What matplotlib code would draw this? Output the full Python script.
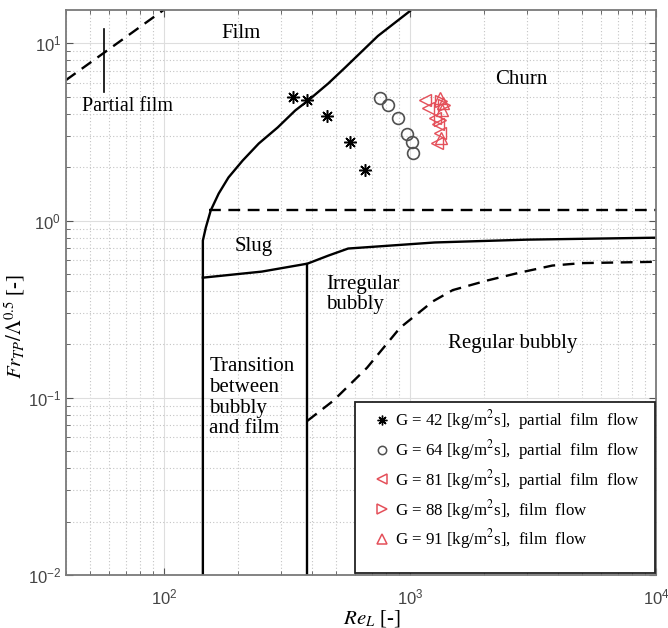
import numpy as np
import matplotlib
matplotlib.use("Agg")
import matplotlib.pyplot as plt
from matplotlib.lines import Line2D
from matplotlib.patches import Rectangle

plt.rcParams['mathtext.fontset'] = 'stix'

# boundaries of the flow-pattern map (Re_L, Fr_TP/Lambda^0.5)
partial_x = [40, 110]
partial_y = [6.2, 17.0]
partial_tick_x = [57, 57]
partial_tick_y = [5.3, 12.0]

film_x = [144, 144, 144, 148, 155, 167, 183, 209, 243, 290, 342, 386, 466, 546, 741, 1000]
film_y = [0.01, 0.62, 0.771, 0.912, 1.14, 1.42, 1.75, 2.18, 2.72, 3.35, 4.18, 4.76, 5.94,
          7.31, 11.0, 15.2]

churn_x = [152, 10000]
churn_y = [1.15, 1.15]

slug_x = [144, 250, 383, 466, 561, 1263, 3000, 10000]
slug_y = [0.476, 0.515, 0.571, 0.634, 0.695, 0.752, 0.78, 0.80]

irr_x = [383, 383]
irr_y = [0.01, 0.571]

reg_x = [383, 488, 669, 911, 1240, 1493, 2050, 2790, 3790, 5000, 10000]
reg_y = [0.0741, 0.0962, 0.1476, 0.248, 0.35, 0.405, 0.458, 0.508, 0.557, 0.575, 0.585]

# measured points
g42_x = [336, 383, 461, 571, 658]
g42_y = [4.95, 4.76, 3.87, 2.76, 1.92]
g64_x = [757, 815, 894, 972, 1019, 1028]
g64_y = [4.89, 4.46, 3.77, 3.06, 2.79, 2.39]
g81_x = [1151, 1183, 1263, 1297, 1321, 1286]
g81_y = [4.76, 4.30, 3.77, 3.49, 3.10, 2.72]
g88_x = [1333, 1374, 1321]
g88_y = [4.70, 4.47, 3.67]
g91_x = [1321, 1361, 1348, 1333]
g91_y = [4.89, 4.58, 4.18, 2.94]

legend_labels = [
    'G = 42 [kg/m$^2$s],  partial  film  flow',
    'G = 64 [kg/m$^2$s],  partial  film  flow',
    'G = 81 [kg/m$^2$s],  partial  film  flow',
    'G = 88 [kg/m$^2$s],  film  flow',
    'G = 91 [kg/m$^2$s],  film  flow',
]

serif = 'Liberation Serif'
red = '#e4505a'
star = (8, 2, 0)

fig = plt.figure(figsize=(6.68, 6.28), dpi=100)
ax = fig.add_axes([0.0988, 0.0844, 0.8832, 0.8996])
ax.set_xscale('log')
ax.set_yscale('log')
ax.set_xlim(40, 10000)
ax.set_ylim(0.01, 15.4)

ax.grid(True, which='major', color='#dedede', lw=0.8, ls='-')
ax.grid(True, which='minor', color='#c4c4c4', lw=0.8, ls=(0, (1, 2)))
ax.set_axisbelow(True)

lw = 1.7
dash = (0, (5, 3.2))
ax.plot(partial_x, partial_y, color='k', lw=lw, ls=dash)
ax.plot(partial_tick_x, partial_tick_y, color='k', lw=1.2)
ax.plot(film_x, film_y, color='k', lw=lw)
ax.plot(churn_x, churn_y, color='k', lw=lw, ls=dash)
ax.plot(slug_x, slug_y, color='k', lw=lw)
ax.plot(irr_x, irr_y, color='k', lw=lw)
ax.plot(reg_x, reg_y, color='k', lw=lw, ls=dash)

ax.plot(g42_x, g42_y, ls='none', marker=star, ms=9, mec='k', mew=1.1)
ax.plot(g64_x, g64_y, ls='none', marker='o', ms=8.5, mfc='none', mec='#505050', mew=1.2)
ax.plot(g81_x, g81_y, ls='none', marker='<', ms=9, mfc='none', mec=red, mew=1.0)
ax.plot(g88_x, g88_y, ls='none', marker='>', ms=9, mfc='none', mec=red, mew=1.0)
ax.plot(g91_x, g91_y, ls='none', marker='^', ms=9, mfc='none', mec=red, mew=1.0)

fs = 15
ax.text(205, 11.4, 'Film', family=serif, fontsize=fs, ha='center', va='center')
ax.text(71, 4.4, 'Partial film', family=serif, fontsize=14.5, ha='center', va='center')
ax.text(2840, 6.27, 'Churn', family=serif, fontsize=fs, ha='center', va='center')
ax.text(231, 0.713, 'Slug', family=serif, fontsize=fs, ha='center', va='center')
ax.text(455, 0.383, 'Irregular\nbubbly', family=serif, fontsize=fs, ha='left', va='center',
        linespacing=1.12)
ax.text(153, 0.1, 'Transition\nbetween\nbubbly\nand film', family=serif, fontsize=fs,
        ha='left', va='center', linespacing=1.12)
ax.text(2612, 0.202, 'Regular bubbly', family=serif, fontsize=fs, ha='center', va='center')

# legend box
ax.add_patch(Rectangle((0.49, 0.003), 0.508, 0.303, transform=ax.transAxes,
                       facecolor='white', edgecolor='#222222', lw=1.3, zorder=4))
handles = [
    Line2D([], [], ls='none', marker=star, ms=7, mec='k', mew=1.0),
    Line2D([], [], ls='none', marker='o', ms=6, mfc='none', mec='#505050', mew=1.1),
    Line2D([], [], ls='none', marker='<', ms=7, mfc='none', mec=red, mew=1.1),
    Line2D([], [], ls='none', marker='>', ms=7, mfc='none', mec=red, mew=1.1),
    Line2D([], [], ls='none', marker='^', ms=7, mfc='none', mec=red, mew=1.1),
]
leg = ax.legend(handles, legend_labels, loc='upper left', bbox_to_anchor=(0.495, 0.322),
                frameon=False, prop={'family': serif, 'size': 12.2},
                handlelength=1.0, handletextpad=0.3, labelspacing=0.34)
leg.set_zorder(5)

for s in ax.spines.values():
    s.set_color('#7a7a7a')
    s.set_linewidth(1.3)
ax.tick_params(which='both', direction='in', top=True, right=True, color='#555555',
               labelcolor='#444444', labelsize=12, labelfontfamily='Liberation Sans')
ax.tick_params(which='major', length=5)
ax.tick_params(which='minor', length=3)
ax.tick_params(axis='x', which='major', pad=9)

ax.set_xlabel(r'$Re_L$ [-]', family=serif, fontsize=15)
ax.set_ylabel(r'$Fr_{TP}/\Lambda^{0.5}$ [-]', family=serif, fontsize=15)
ax.xaxis.set_label_coords(0.519, -0.058)
ax.yaxis.set_label_coords(-0.066, 0.44)

fig.savefig('out.png', dpi=100)
